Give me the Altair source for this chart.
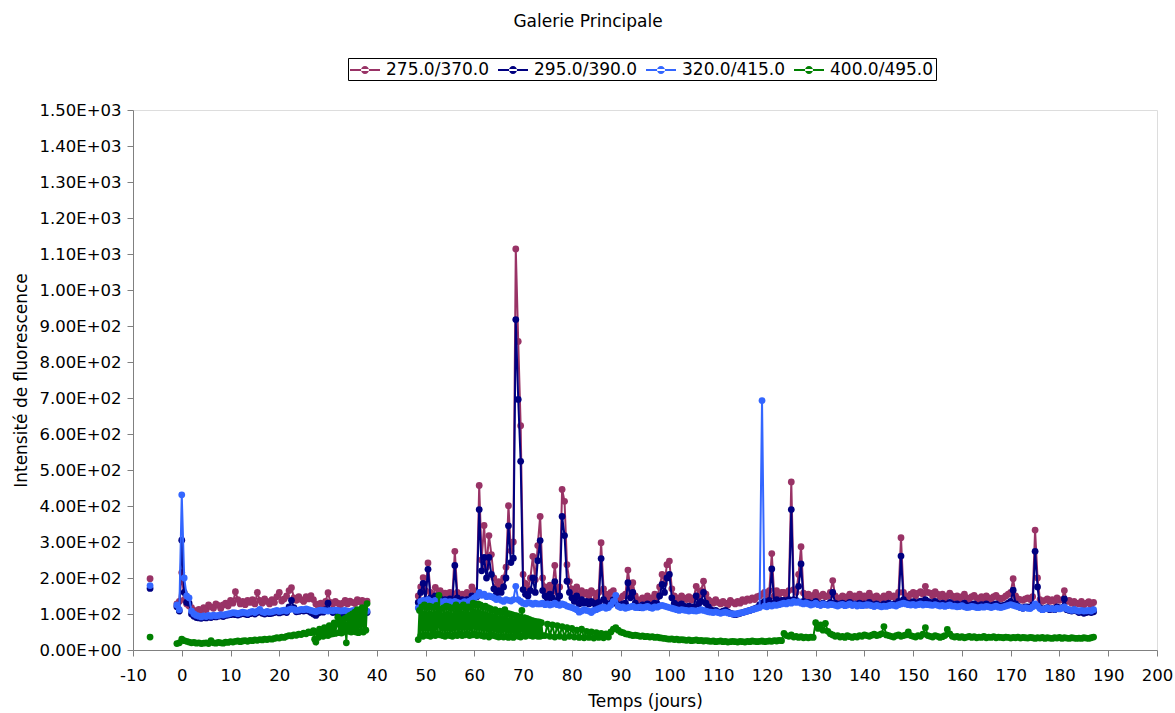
import altair as alt
import pandas as pd

FONT = "DejaVu Sans"
series_names = ["275.0/370.0", "295.0/390.0", "320.0/415.0", "400.0/495.0"]
series_colors = ["#993366", "#000080", "#3366FF", "#008000"]

# ---- isolated early reading (day -6.5) ----
a_t = -6.5
a_275 = [198]
a_295 = [171]
a_320 = [179]
a_400 = [36]

# ---- segment B : days -1.0 .. 38.0, every 0.5 day ----
b_start, b_step = -1.0, 0.5
b_275 = [128, 135, 215, 140, 128, 122, 118, 110, 105, 113,
         108, 118, 112, 125, 120, 116, 128, 124, 115, 125,
         130, 122, 138, 130, 162, 140, 128, 135, 126, 138,
         132, 140, 128, 160, 138, 130, 142, 135, 128, 140,
         132, 148, 160, 136, 142, 150, 165, 173, 145, 138,
         148, 140, 135, 148, 142, 151, 140, 128, 122, 130,
         125, 135, 159, 132, 128, 135, 130, 124, 130, 138,
         128, 136, 132, 129, 140, 134, 138, 130, 136]
b_295 = [120, 108, 305, 160, 132, 130, 100, 94, 90, 89,
         88, 91, 89, 92, 90, 93, 92, 94, 95, 93,
         96, 97, 98, 100, 98, 97, 99, 101, 100, 98,
         101, 103, 100, 104, 108, 102, 100, 103, 101, 102,
         104, 106, 103, 105, 107, 104, 120, 138, 118, 106,
         107, 110, 108, 110, 108, 104, 100, 96, 103, 106,
         105, 112, 130, 110, 104, 106, 105, 100, 98, 103,
         101, 99, 100, 102, 100, 101, 99, 102, 104]
b_320 = [125, 112, 431, 200, 150, 145, 108, 100, 96, 94,
         92, 95, 93, 96, 94, 97, 95, 96, 98, 97,
         99, 100, 102, 104, 103, 101, 103, 105, 104, 102,
         105, 107, 104, 108, 113, 106, 104, 107, 105, 106,
         108, 110, 107, 109, 111, 108, 112, 114, 113, 110,
         111, 113, 112, 114, 112, 110, 108, 106, 109, 111,
         110, 109, 108, 110, 109, 111, 110, 108, 109, 110,
         108, 107, 109, 110, 108, 109, 107, 109, 108]
# green: days -1.0 .. 27.0 every 0.5 day, then 27.25 .. 38.0 every 0.25 day
b_400_slow = [18, 20, 30, 26, 24, 22, 20, 21, 19, 20,
              18, 19, 20, 18, 26, 20, 19, 21, 20, 19,
              22, 21, 23, 22, 24, 25, 23, 25, 26, 24,
              27, 26, 28, 27, 29, 28, 30, 29, 31, 30,
              32, 34, 33, 36, 35, 38, 40, 39, 42, 41,
              44, 43, 47, 45, 50, 48, 54]
b_400_fast_start = 27.25
b_400_fast = [30, 22, 50, 35, 58, 40, 55, 38, 62, 42,
              60, 40, 68, 44, 66, 45, 75, 46, 72, 91,
              48, 80, 47, 84, 50, 88, 20, 92, 52, 96,
              50, 100, 52, 105, 50, 112, 48, 110, 52, 118,
              50, 115, 55, 129]

# ---- segment C : days 48.5 .. 187.0, every 0.5 day ----
c_start, c_step = 48.5, 0.5
c_275 = [150, 175, 201, 165, 242, 160, 148, 174, 152, 165,
         150, 158, 145, 160, 152, 274, 160, 148, 155, 145,
         160, 150, 175, 165, 160, 457, 250, 346, 230, 318,
         265, 200, 175, 190, 180, 200, 230, 401, 275, 300,
         1114, 857, 623, 210, 185, 170, 200, 260, 195, 290,
         371, 200, 175, 165, 180, 170, 235, 160, 175, 446,
         413, 237, 190, 170, 160, 175, 150, 165, 155, 160,
         150, 165, 158, 145, 160, 298, 170, 155, 148, 160,
         165, 150, 140, 145, 150, 155, 222, 170, 187, 150,
         140, 135, 145, 140, 150, 138, 145, 155, 148, 175,
         210, 185, 237, 247, 170, 150, 145, 140, 150, 145,
         140, 148, 138, 145, 177, 150, 165, 191, 155, 140,
         135, 130, 140, 132, 128, 135, 130, 125, 138, 132,
         128, 135, 130, 140, 135, 142, 138, 145, 140, 148,
         150, 155, 160, 145, 165, 268, 150, 165, 155, 160,
         160, 152, 165, 467, 168, 160, 210, 287, 158, 150,
         155, 148, 152, 160, 145, 150, 155, 148, 150, 160,
         193, 150, 142, 145, 150, 140, 148, 155, 145, 150,
         145, 155, 140, 150, 145, 158, 148, 142, 150, 145,
         140, 150, 145, 155, 148, 150, 142, 160, 312, 160,
         150, 145, 155, 160, 150, 158, 162, 155, 177, 160,
         158, 150, 162, 155, 148, 155, 145, 150, 158, 150,
         145, 150, 140, 148, 155, 145, 140, 148, 152, 145,
         140, 148, 142, 150, 145, 140, 148, 152, 145, 142,
         145, 150, 155, 160, 198, 150, 142, 140, 138, 142,
         145, 140, 148, 333, 200, 140, 135, 138, 142, 135,
         140, 135, 145, 138, 140, 165, 135, 138, 130, 135,
         130, 128, 135, 125, 130, 134, 124, 132]
c_295 = [132, 160, 185, 140, 224, 145, 135, 150, 138, 142,
         135, 140, 130, 142, 138, 235, 145, 135, 140, 130,
         140, 132, 150, 145, 148, 390, 220, 257, 200, 257,
         210, 170, 155, 165, 160, 175, 200, 345, 243, 255,
         918, 696, 524, 168, 155, 150, 165, 200, 160, 248,
         304, 165, 150, 140, 155, 145, 190, 138, 150, 371,
         318, 191, 160, 145, 135, 150, 128, 140, 130, 135,
         128, 135, 130, 120, 132, 254, 140, 130, 125, 130,
         140, 130, 122, 125, 128, 130, 187, 145, 160, 130,
         122, 118, 125, 122, 128, 120, 125, 130, 128, 150,
         182, 160, 200, 210, 145, 130, 125, 120, 128, 122,
         118, 122, 115, 120, 150, 128, 135, 160, 130, 120,
         112, 108, 110, 106, 104, 108, 110, 106, 102, 100,
         98, 100, 102, 104, 106, 108, 110, 112, 115, 118,
         125, 130, 135, 128, 138, 225, 130, 140, 135, 138,
         138, 135, 140, 390, 140, 138, 177, 239, 135, 132,
         132, 128, 130, 135, 128, 125, 130, 127, 126, 132,
         160, 130, 125, 128, 130, 124, 128, 132, 125, 128,
         125, 130, 124, 128, 125, 132, 127, 122, 128, 124,
         122, 128, 125, 130, 126, 128, 124, 135, 261, 140,
         132, 128, 130, 134, 128, 132, 136, 130, 140, 135,
         132, 128, 135, 130, 126, 130, 124, 128, 132, 128,
         125, 128, 122, 126, 130, 124, 120, 125, 128, 124,
         122, 126, 124, 128, 124, 120, 125, 128, 124, 122,
         124, 126, 130, 135, 166, 128, 122, 118, 116, 120,
         120, 118, 125, 274, 175, 118, 112, 115, 118, 112,
         115, 112, 120, 116, 118, 142, 112, 110, 108, 112,
         108, 104, 106, 102, 104, 106, 104, 106]
c_320 = [117, 135, 138, 132, 140, 136, 130, 138, 132, 135,
         132, 136, 128, 134, 130, 135, 132, 128, 131, 134,
         132, 136, 140, 145, 150, 160, 152, 155, 148, 150,
         148, 145, 140, 142, 138, 135, 140, 138, 136, 140,
         177, 140, 135, 130, 128, 132, 130, 127, 130, 128,
         128, 130, 126, 128, 125, 127, 130, 126, 124, 128,
         126, 122, 120, 118, 115, 112, 105, 108, 112, 110,
         108, 104, 110, 112, 115, 118, 120, 116, 118, 125,
         135, 152, 122, 118, 120, 116, 118, 120, 122, 118,
         118, 120, 117, 119, 121, 118, 116, 120, 119, 122,
         124, 122, 120, 118, 116, 114, 112, 110, 112, 111,
         110, 108, 110, 109, 108, 110, 112, 110, 108, 106,
         105, 104, 106, 104, 102, 104, 105, 103, 101, 100,
         100, 101, 103, 104, 106, 108, 110, 112, 114, 116,
         118, 693, 122, 120, 124, 122, 125, 124, 126, 128,
         130, 128, 132, 130, 135, 132, 134, 130, 128, 131,
         128, 125, 127, 130, 126, 124, 128, 126, 124, 127,
         126, 124, 122, 125, 127, 123, 125, 128, 124, 126,
         122, 125, 123, 124, 126, 125, 123, 121, 124, 122,
         120, 122, 121, 123, 125, 124, 122, 126, 128, 130,
         128, 126, 125, 127, 124, 126, 128, 125, 127, 126,
         125, 124, 126, 124, 122, 124, 121, 123, 125, 122,
         122, 120, 121, 123, 120, 118, 119, 121, 120, 118,
         118, 120, 119, 121, 120, 118, 120, 122, 119, 118,
         120, 122, 124, 126, 124, 122, 120, 118, 116, 118,
         116, 115, 120, 128, 122, 115, 112, 114, 116, 114,
         115, 113, 116, 114, 116, 120, 114, 112, 110, 112,
         110, 108, 110, 108, 109, 110, 108, 112]
# green: days 48.5 .. 74.0 every 0.25 day, then 74.5 .. 187.0 every 0.5 day
c_400_fast_start, c_400_fast_step = 48.5, 0.25
c_400_fast = [29, 110, 40, 120, 38, 125, 42, 118, 40, 122,
              38, 120, 44, 118, 40, 124, 45, 152, 42, 115,
              40, 118, 38, 122, 42, 120, 40, 115, 38, 118,
              42, 125, 40, 112, 44, 120, 40, 125, 42, 115,
              44, 120, 40, 118, 42, 130, 45, 125, 40, 128,
              42, 125, 40, 120, 38, 122, 40, 118, 36, 115,
              42, 110, 40, 112, 38, 105, 36, 108, 38, 104,
              36, 112, 38, 102, 35, 100, 38, 98, 35, 96,
              40, 95, 38, 92, 36, 110, 40, 90, 38, 88,
              42, 85, 40, 82, 38, 80, 40, 79, 38, 78,
              38, 76, 40]
c_400_slow_start = 74.5
c_400_slow = [40, 72, 38, 70, 36, 68, 38, 65,
              35, 62, 38, 60, 36, 55, 35, 58, 34, 52,
              35, 50, 33, 48, 35, 46, 34, 45, 36, 50,
              58, 62, 55, 50, 48, 45, 44, 42, 40, 41,
              40, 38, 39, 37, 38, 36, 37, 35, 36, 34,
              33, 32, 31, 30, 31, 29, 30, 28, 29, 28,
              27, 28, 26, 27, 28, 26, 27, 25, 26, 25,
              24, 25, 23, 24, 25, 23, 24, 22, 23, 24,
              23, 22, 24, 23, 22, 24, 23, 25, 24, 23,
              24, 25, 23, 24, 25, 24, 26, 25, 27, 26,
              46, 40, 38, 42, 36, 38, 35, 37, 34, 36,
              34, 36, 35, 76, 60, 70, 55, 74, 52, 45,
              42, 38, 40, 36, 38, 35, 40, 37, 35, 38,
              36, 40, 38, 42, 40, 38, 41, 44, 40, 42,
              45, 65, 42, 40, 38, 36, 40, 42, 38, 40,
              42, 50, 40, 38, 36, 40, 38, 44, 62, 40,
              38, 36, 40, 38, 35, 37, 40, 57, 45, 38,
              36, 38, 35, 37, 34, 36, 38, 35, 37, 34,
              36, 35, 38, 34, 36, 35, 37, 34, 36, 35,
              34, 36, 35, 33, 35, 34, 36, 33, 35, 34,
              33, 35, 34, 32, 34, 33, 35, 32, 34, 33,
              32, 34, 33, 35, 32, 34, 33, 32, 34, 33,
              32, 33, 32, 34, 33, 32, 34, 36]

x_ticks = list(range(-10, 201, 10))
y_ticks = list(range(0, 1501, 100))

# (segment id, series, first day, step, values)
pieces = [
    ("a", series_names[0], a_t, 1.0, a_275),
    ("a", series_names[1], a_t, 1.0, a_295),
    ("a", series_names[2], a_t, 1.0, a_320),
    ("a", series_names[3], a_t, 1.0, a_400),
    ("b", series_names[0], b_start, b_step, b_275),
    ("b", series_names[1], b_start, b_step, b_295),
    ("b", series_names[2], b_start, b_step, b_320),
    ("b", series_names[3], b_start, b_step, b_400_slow),
    ("b", series_names[3], b_400_fast_start, 0.25, b_400_fast),
    ("c", series_names[0], c_start, c_step, c_275),
    ("c", series_names[1], c_start, c_step, c_295),
    ("c", series_names[2], c_start, c_step, c_320),
    ("c", series_names[3], c_400_fast_start, c_400_fast_step, c_400_fast),
    ("c", series_names[3], c_400_slow_start, 0.5, c_400_slow),
]
rows = []
for seg, name, start, step, vals in pieces:
    for i, v in enumerate(vals):
        rows.append({"t": start + step * i, "v": v, "s": name, "seg": seg})
df = pd.DataFrame(rows)

# legend symbol: short line with a dot in the middle (filled shape)
LEG_PATH = ("M-1.5,-0.1L1.5,-0.1L1.5,0.1L-1.5,0.1Z "
            "M-0.4,0A0.4,0.4 0 1,0 0.4,0A0.4,0.4 0 1,0 -0.4,0Z")

legend = alt.Legend(
    title=None, orient="none", legendX=215, legendY=-52, direction="horizontal",
    symbolType=LEG_PATH, symbolSize=400, symbolStrokeWidth=0, symbolOpacity=1,
    symbolOffset=5,
    labelFont=FONT, labelFontSize=17, labelColor="black", labelOffset=11,
    columnPadding=8, padding=2, strokeColor="black", fillColor="white",
    labelLimit=300,
)

color_enc = alt.Color("s:N", scale=alt.Scale(domain=series_names, range=series_colors),
                      legend=legend)

y_label_expr = ("datum.value == 0 ? '0.00E+00' : "
                "format(datum.value / pow(10, floor(log(datum.value) / LN10 + 1e-9)), '.2f')"
                " + 'E+0' + floor(log(datum.value) / LN10 + 1e-9)")

x_enc = alt.X("t:Q", scale=alt.Scale(domain=[-10, 200], nice=False, zero=False),
              axis=alt.Axis(values=x_ticks, title="Temps (jours)", grid=False, tickSize=6,
                            labelExpr="'' + datum.value",
                            labelFont=FONT, labelFontSize=16.5, labelColor="black",
                            titleFont=FONT, titleFontSize=17, titleFontWeight="normal",
                            titleColor="black", domainColor="#808080", tickColor="#808080",
                            labelPadding=11, titlePadding=10, labelFlush=False))
y_enc = alt.Y("v:Q", scale=alt.Scale(domain=[0, 1500], nice=False),
              axis=alt.Axis(values=y_ticks, title="Intensité de fluorescence", grid=False,
                            tickSize=6, labelExpr=y_label_expr,
                            labelFont=FONT, labelFontSize=16.5, labelColor="black",
                            titleFont=FONT, titleFontSize=17, titleFontWeight="normal",
                            titleColor="black", domainColor="#808080", tickColor="#808080",
                            labelPadding=6, titlePadding=9))

base = alt.Chart(df)
layers = []
for name in series_names:
    sub = base.transform_filter(alt.datum.s == name)
    layers.append(sub.mark_line(strokeWidth=2).encode(
        x=x_enc, y=y_enc, color=color_enc, detail="seg:N", order="t:Q"))
    layers.append(sub.mark_circle(size=46, opacity=1).encode(
        x=x_enc, y=y_enc, color=color_enc))

chart = alt.layer(*layers).properties(
    width=1024, height=540,
    autosize=alt.AutoSizeParams(type="none"),
    padding={"left": 133, "top": 110, "right": 18, "bottom": 63},
    title=alt.TitleParams("Galerie Principale", font=FONT, fontSize=17, fontWeight="normal",
                          color="black", anchor="middle", frame="group", dx=-57,
                          offset=27),
).configure_view(stroke=None).configure(background="white")

chart.save("out.html", embed_options={"renderer": "svg", "actions": False})
